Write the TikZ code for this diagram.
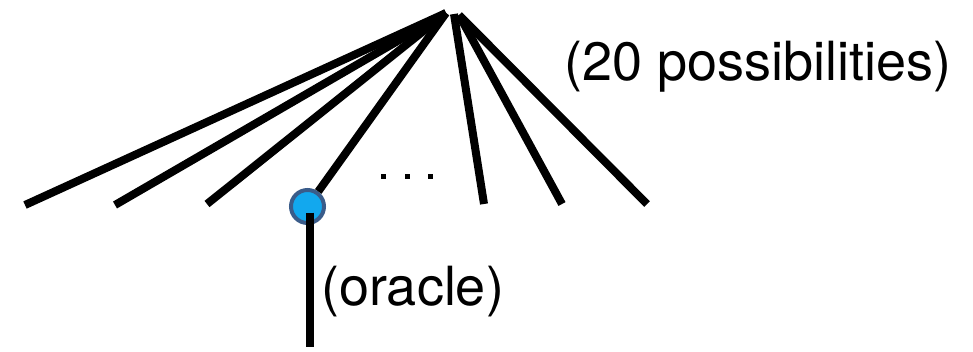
\documentclass[tikz,border=0pt]{standalone}
\usepackage{fontspec}
\setmainfont{TeX Gyre Heros}
\definecolor{nodefill}{HTML}{12A8EE}
\definecolor{noderim}{HTML}{3A5C8A}
\begin{document}
\begin{tikzpicture}[x=1pt,y=-1pt,
  branch/.style={line width=8pt},
  label/.style={anchor=base west,inner sep=0pt,font=\fontsize{54}{62}\selectfont},
  oraclenode/.style={circle,fill=nodefill,draw=noderim,line width=4pt,minimum size=33pt,inner sep=0pt},
  dot/.style={fill=black,minimum size=5pt,inner sep=0pt}]
\useasboundingbox (0,0) rectangle (973,351);
% root of the fan
\coordinate (rootL) at (446,13);
\coordinate (rootM) at (454,14);
\coordinate (rootR) at (459,15);
% leaves
\coordinate (l1) at (25,205);
\coordinate (l2) at (115,205);
\coordinate (l3) at (207,204);
\coordinate (l5) at (484,204);
\coordinate (l6) at (562,204);
\coordinate (l7) at (647,204);
\coordinate (leafend) at (309.5,347);
\draw[branch] (rootL) -- (l1);
\draw[branch] (rootL) -- (l2);
\draw[branch] (rootL) -- (l3);
\node[oraclenode] (orc) at (307.5,206.5) {};
\draw[branch] (rootL) -- (orc);
\draw[branch] (rootM) -- (l5);
\draw[branch] (rootR) -- (l6);
\draw[branch] (rootR) -- (l7);
% stem below the oracle node starts just under its centre
\draw[branch] ([xshift=2pt,yshift=-6pt]orc.center) -- (leafend);
% ellipsis
\node[dot] (d1) at (383,176) {};
\node[dot] (d2) at (407,176) {};
\node[dot] (d3) at (430,176) {};
% labels
\node[label] (poss) at (564,80) {(20 possibilities)};
\node[label] (orl) at (321,305) {(oracle)};
\end{tikzpicture}
\end{document}
